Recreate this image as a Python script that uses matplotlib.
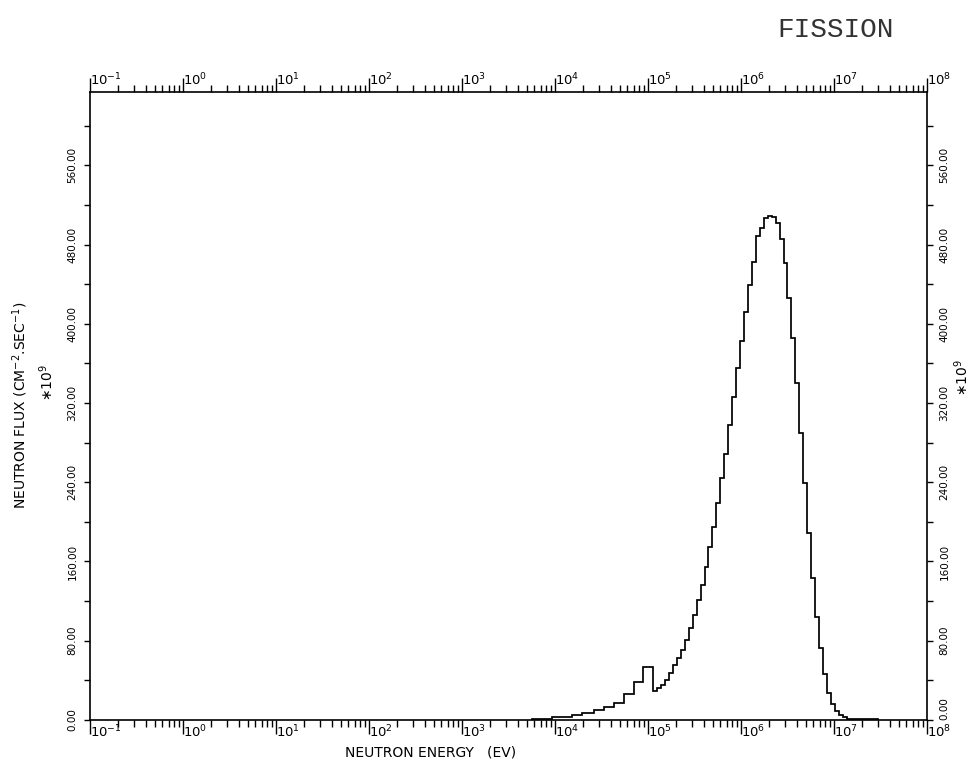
import numpy as np
import matplotlib
matplotlib.use('Agg')
import matplotlib.pyplot as plt
from matplotlib.ticker import (FixedLocator, LogLocator, NullFormatter,
                               LogFormatterSciNotation, FormatStrFormatter)

# group boundaries (eV)
energy_edges = [5.65e3, 9.29e3, 1.52e4, 1.95e4, 2.63e4, 3.37e4, 4.32e4, 5.54e4, 7.10e4, 8.87e4,
                1.14e5, 1.25e5, 1.38e5, 1.53e5, 1.68e5, 1.85e5, 2.05e5, 2.26e5, 2.49e5, 2.74e5,
                3.02e5, 3.33e5, 3.68e5, 4.05e5, 4.47e5, 4.93e5, 5.44e5, 6.00e5, 6.61e5, 7.29e5,
                8.04e5, 8.86e5, 9.77e5, 1.08e6, 1.19e6, 1.31e6, 1.45e6, 1.59e6, 1.76e6, 1.94e6,
                2.14e6, 2.36e6, 2.60e6, 2.87e6, 3.16e6, 3.48e6, 3.84e6, 4.24e6, 4.67e6, 5.15e6,
                5.68e6, 6.26e6, 6.91e6, 7.61e6, 8.40e6, 9.26e6, 1.02e7, 1.13e7, 1.24e7, 1.37e7,
                3.0e7]

# neutron flux per group (x 10^9 cm^-2 s^-1)
flux = [1, 3, 5, 7, 10, 13, 17, 26, 38, 53,
        29, 32, 35, 40, 47, 55, 63, 71, 81, 93,
        106, 121, 136, 154, 175, 195, 219, 244, 269, 298,
        326, 355, 383, 412, 439, 462, 489, 497, 507, 509,
        508, 502, 486, 461, 426, 386, 340, 290, 239, 189,
        143, 104, 73, 46, 27, 16, 9, 5, 3, 1]

energy_ticks = [1e-1, 1e0, 1e1, 1e2, 1e3, 1e4, 1e5, 1e6, 1e7, 1e8]
flux_ticks = [0, 80, 160, 240, 320, 400, 480, 560]
flux_minor = [40, 120, 200, 280, 360, 440, 520, 600]

fig = plt.figure(figsize=(9.71, 7.66), dpi=100)
ax = fig.add_axes([0.0927, 0.0601, 0.8620, 0.8198])

ax.stairs(flux, energy_edges, color='black', linewidth=1.25)

ax.set_xscale('log')
ax.set_xlim(1e-1, 1e8)
ax.set_ylim(0, 634)

for s in ax.spines.values():
    s.set_linewidth(1.2)

# energy axis, same scale top and bottom
ax.xaxis.set_major_locator(FixedLocator(energy_ticks))
ax.xaxis.set_major_formatter(LogFormatterSciNotation())
ax.xaxis.set_minor_locator(LogLocator(base=10, subs=np.arange(2, 10), numticks=200))
ax.xaxis.set_minor_formatter(NullFormatter())
ax.tick_params(axis='x', which='both', direction='out', top=True, bottom=True,
               labeltop=True, labelbottom=True, width=1)
ax.tick_params(axis='x', which='major', length=10, pad=-7, labelsize=9.5)
ax.tick_params(axis='x', which='minor', length=5)

# flux axis on both sides
ax.yaxis.set_major_locator(FixedLocator(flux_ticks))
ax.yaxis.set_minor_locator(FixedLocator(flux_minor))
ax.yaxis.set_major_formatter(FormatStrFormatter('%.2f'))
ax.tick_params(axis='y', which='both', direction='out', left=True, right=True,
               labelleft=True, labelright=True, length=4, width=1)
ax.tick_params(axis='y', which='major', labelrotation=90, labelsize=7.5, pad=5)

for t in ax.xaxis.get_major_ticks(len(energy_ticks)):
    t.label1.set_horizontalalignment('left')
    t.label2.set_horizontalalignment('left')
yt = ax.yaxis.get_major_ticks(len(flux_ticks))
for t in yt:
    t.label1.set_verticalalignment('center')
    t.label2.set_verticalalignment('center')
# right-hand 0.00 sits a little above the axis, clear of the 10^8 label
yt[0].label2.set_verticalalignment('bottom')

fig.text(0.443, 0.018, 'NEUTRON ENERGY   (EV)', ha='center', va='center', fontsize=10)
fig.text(0.021, 0.471, 'NEUTRON FLUX (CM$^{-2}$.SEC$^{-1}$)', rotation=90,
         ha='center', va='center', fontsize=10)
fig.text(0.048, 0.50, '$\\ast$10$^{9}$', rotation=90, ha='center', va='center', fontsize=10)
fig.text(0.990, 0.507, '$\\ast$10$^{9}$', rotation=90, ha='center', va='center', fontsize=10)

fig.text(0.861, 0.961, 'FISSION', family='Liberation Mono', fontsize=20,
         color='#333333', ha='center', va='center')

fig.savefig('out.png', dpi=100)
